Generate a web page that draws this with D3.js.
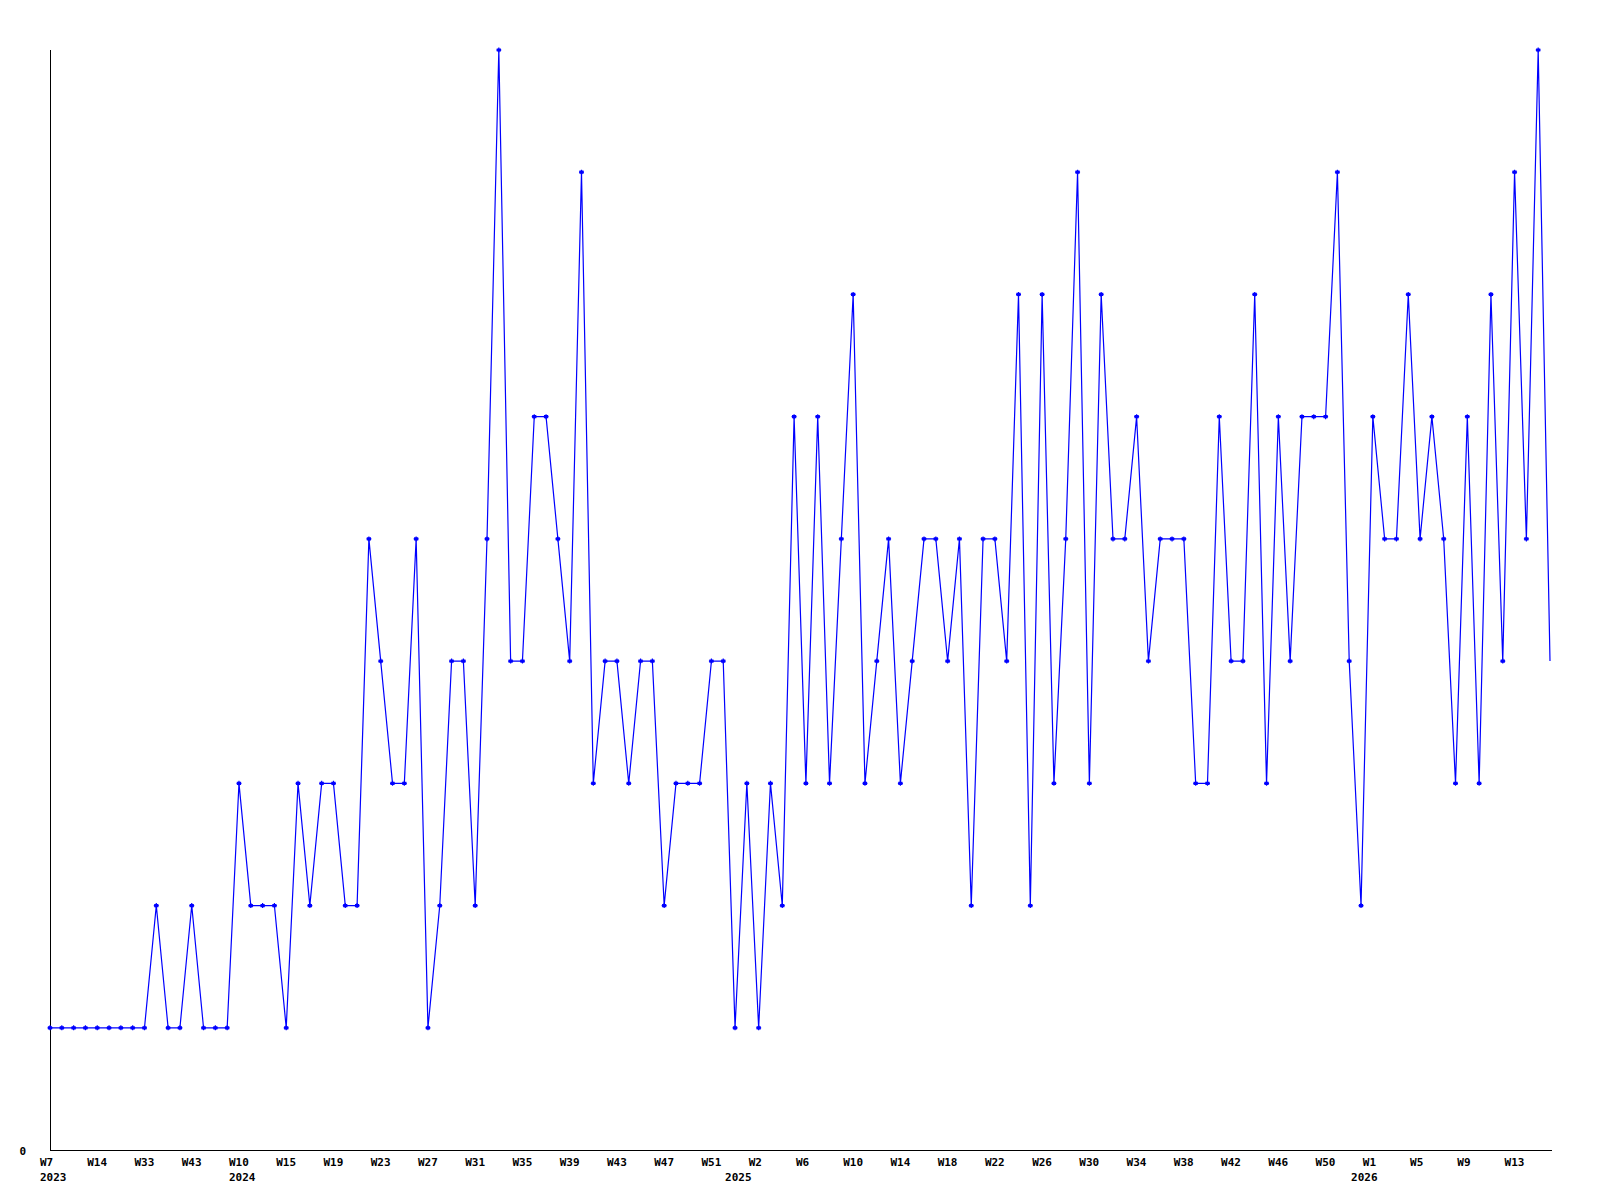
<!DOCTYPE html>
<html>
<head>
<meta charset="utf-8">
<script src="https://cdn.jsdelivr.net/npm/d3@7"></script>
<style>
  html, body { margin: 0; padding: 0; background: #fff; }
  svg { display: block; }
  text { font-family: "DejaVu Sans Mono", "Liberation Mono", monospace; font-weight: bold; font-size: 11px; fill: #000; }
</style>
</head>
<body>
<svg id="chart" width="1600" height="1200"></svg>
<script>
// ---- data ----
const weeks2023 = ["W7","W9","W11","W12","W14","W17","W20","W24","W33","W35","W37","W39","W43","W45","W48","W50"];
const weeks2024 = ["W10","W11","W12","W14","W15","W16","W17","W18","W19","W20","W21","W22","W23","W24","W25","W26","W27","W28","W29","W30","W31","W32","W33","W34","W35","W36","W37","W38","W39","W40","W41","W42","W43","W44","W45","W46","W47","W48","W49","W50","W51","W52"];
const weeks2025 = ["W0","W1","W2","W3","W4","W5","W6","W7","W8","W9","W10","W11","W12","W13","W14","W15","W16","W17","W18","W19","W20","W21","W22","W23","W24","W25","W26","W27","W28","W29","W30","W31","W32","W33","W34","W35","W36","W37","W38","W39","W40","W41","W42","W43","W44","W45","W46","W47","W48","W49","W50","W51","W52"];
const weeks2026 = ["W0","W1","W2","W3","W4","W5","W6","W7","W8","W9","W10","W11","W12","W13","W14","W15","W16"];
const years = ["2023","2024","2025","2026"];

const values = [
  1,1,1,1,1,1,1,1,1,2,1,1,2,1,1,1,
  3,2,2,2,1,3,2,3,3,2,2,5,4,3,3,5,1,2,4,4,2,5,9,4,4,6,6,5,4,8,3,4,4,3,4,4,2,3,3,3,4,4,
  1,3,1,3,2,6,3,6,3,5,7,3,4,5,3,4,5,5,4,5,2,5,5,4,7,2,7,3,5,8,3,7,5,5,6,4,5,5,5,3,3,6,4,4,7,3,6,4,6,6,6,8,4,
  2,6,5,5,7,5,6,5,3,6,3,7,4,8,5,9,4
];
const yTickValues = [0];
const yMax = 9;

// ---- build categories ----
const weeksByYear = [weeks2023, weeks2024, weeks2025, weeks2026];
const categories = [];
weeksByYear.forEach((ws, yi) => ws.forEach((w, wi) => categories.push({key: years[yi] + "-" + w, week: w, year: years[yi], first: wi === 0})));
const data = categories.map((c, i) => ({cat: c, v: values[i], idx: i}));

// ---- layout ----
const svg = d3.select("#chart");
const mLeft = 50, mRight = 1550, mTop = 50, mBottom = 1150;

const x = d3.scalePoint().domain(categories.map(c => c.key)).range([mLeft, mRight]);
const y = d3.scaleLinear().domain([0, yMax]).range([mBottom, mTop]);

// axes lines
svg.append("line").attr("x1", mLeft + 0.5).attr("x2", mLeft + 0.5).attr("y1", mTop).attr("y2", mBottom + 0.5)
  .attr("stroke", "#000").attr("stroke-width", 1).attr("shape-rendering", "crispEdges");
svg.append("line").attr("x1", mLeft).attr("x2", mRight + 1.5).attr("y1", mBottom + 0.5).attr("y2", mBottom + 0.5)
  .attr("stroke", "#000").attr("stroke-width", 1).attr("shape-rendering", "crispEdges");

// y tick labels
svg.selectAll("text.ylab").data(yTickValues).enter().append("text")
  .attr("class", "ylab")
  .attr("x", 26).attr("y", d => y(d) + 5)
  .attr("text-anchor", "end")
  .text(d => d);

// x tick labels: every 4th category
const tickCats = categories.filter((c, i) => i % 4 === 0);
svg.selectAll("text.xlab").data(tickCats).enter().append("text")
  .attr("class", "xlab")
  .attr("x", d => x(d.key) - 10).attr("y", mBottom + 16)
  .text(d => d.week);

// year labels at first category of each year
const yearCats = categories.filter(c => c.first);
svg.selectAll("text.yrlab").data(yearCats).enter().append("text")
  .attr("class", "yrlab")
  .attr("x", d => x(d.key) - 10).attr("y", mBottom + 31)
  .text(d => d.year);

// line
const line = d3.line().x(d => x(d.cat.key)).y(d => y(d.v));
svg.append("path").datum(data)
  .attr("d", line)
  .attr("fill", "none")
  .attr("stroke", "#0000ff")
  .attr("stroke-width", 1.2);

// markers (all but last, partial week)
const marker = "M-2.5,0L2.5,0M0,-2.5L0,2.5M-1.5,-1L1.5,-1L1.5,1L-1.5,1Z";
svg.selectAll("path.mk").data(data.slice(0, data.length - 1)).enter().append("path")
  .attr("class", "mk")
  .attr("transform", d => `translate(${x(d.cat.key)},${y(d.v)})`)
  .attr("d", marker)
  .attr("fill", "#0000ff")
  .attr("stroke", "#0000ff")
  .attr("stroke-width", 1.2);
</script>
</body>
</html>
